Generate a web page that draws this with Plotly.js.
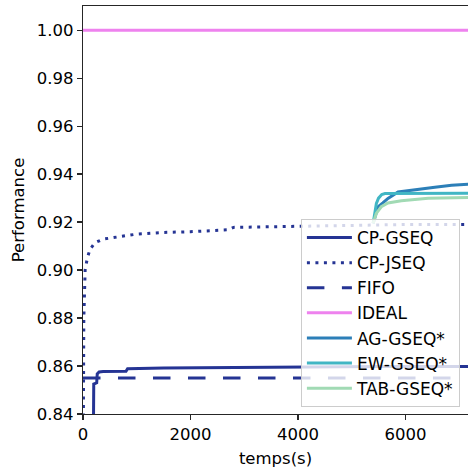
<!DOCTYPE html>
<html>
<head>
<meta charset="utf-8">
<script src="https://cdn.plot.ly/plotly-3.0.1.min.js"></script>
<style>
  html, body { margin: 0; padding: 0; background: #fff; }
  #chart { width: 468px; height: 471px; }
</style>
</head>
<body>
<div id="chart"></div>
<script>
// ---- Data ----
const cpGseqX = [190, 190, 200, 255, 265, 300, 375, 800, 830, 1500, 2500, 3500, 4500, 5500, 6500, 7200];
const cpGseqY = [0.820, 0.852, 0.8525, 0.853, 0.8567, 0.8575, 0.8577, 0.8578, 0.8589, 0.8592, 0.8594, 0.8596, 0.8597, 0.8598, 0.8598, 0.8598];

const cpJseqX = [0, 10, 15, 40, 80, 130, 220, 375, 530, 700, 1000, 1500, 2000, 2400, 2700, 2800, 3300, 4000, 5000, 6000, 7200];
const cpJseqY = [0.800, 0.860, 0.880, 0.900, 0.905, 0.9086, 0.9114, 0.9129, 0.9135, 0.9140, 0.9150, 0.9157, 0.9160, 0.9165, 0.9168, 0.9178, 0.9180, 0.9185, 0.9188, 0.9190, 0.9190];

const fifoX = [0, 7200];
const fifoY = [0.855, 0.855];

const idealX = [0, 7200];
const idealY = [1.0, 1.0];

const agX = [5400, 5440, 5490, 5580, 5676, 5863, 6174, 6548, 6860, 7200];
const agY = [0.9195, 0.923, 0.9264, 0.928, 0.9299, 0.9326, 0.9336, 0.9345, 0.9354, 0.9358];

const ewX = [5400, 5430, 5460, 5500, 5560, 5620, 6000, 7200];
const ewY = [0.9195, 0.924, 0.9278, 0.930, 0.9315, 0.9319, 0.9320, 0.9320];

const tabX = [5400, 5430, 5458, 5551, 5676, 5925, 6424, 7200];
const tabY = [0.9195, 0.922, 0.9236, 0.9264, 0.928, 0.9289, 0.9299, 0.9303];

const names = ["CP-GSEQ", "CP-JSEQ", "FIFO", "IDEAL", "AG-GSEQ*", "EW-GSEQ*", "TAB-GSEQ*"];
const xTicks = [0, 2000, 4000, 6000];
const yTicks = [0.84, 0.86, 0.88, 0.90, 0.92, 0.94, 0.96, 0.98, 1.00];

// ---- Styles ----
const dark = "#253494";
const W = 3;
const traces = [
  {x: cpGseqX, y: cpGseqY, name: names[0], line: {color: dark, width: W}},
  {x: cpJseqX, y: cpJseqY, name: names[1], line: {color: dark, width: W, dash: "3px,5.5px"}},
  {x: fifoX, y: fifoY, name: names[2], line: {color: dark, width: W, dash: "17.5px,17.5px"}},
  {x: idealX, y: idealY, name: names[3], line: {color: "#ee82ee", width: W}},
  {x: agX, y: agY, name: names[4], line: {color: "#2c7fb8", width: W}},
  {x: ewX, y: ewY, name: names[5], line: {color: "#41b6c4", width: W}},
  {x: tabX, y: tabY, name: names[6], line: {color: "#a1dab4", width: W}}
].map(t => Object.assign({type: "scatter", mode: "lines", hoverinfo: "skip"}, t));

const font = {family: "DejaVu Sans", size: 16.5, color: "#000"};
const axisColor = "#262626";

const layout = {
  width: 468, height: 471,
  margin: {l: 83, r: 0, t: 6, b: 57, pad: 0},
  paper_bgcolor: "#fff", plot_bgcolor: "#fff",
  font: font,
  showlegend: true,
  xaxis: {
    range: [0, 7165],
    tickvals: xTicks,
    ticktext: xTicks.map(String),
    showgrid: false, zeroline: false,
    showline: true, linecolor: axisColor, linewidth: 1.3, mirror: true,
    ticks: "outside", ticklen: 5, tickwidth: 1.3, tickcolor: axisColor,
    tickfont: font,
    title: {text: "temps(s)", font: font, standoff: 9}
  },
  yaxis: {
    range: [0.84, 1.0101],
    tickvals: yTicks,
    ticktext: yTicks.map(v => v.toFixed(2)),
    showgrid: false, zeroline: false,
    showline: true, linecolor: axisColor, linewidth: 1.3, mirror: false,
    ticks: "outside", ticklen: 5, tickwidth: 1.3, tickcolor: axisColor,
    tickfont: font,
    title: {text: "Performance", font: font, standoff: 8}
  },
  legend: {
    x: 0.566, y: 0.478, xanchor: "left", yanchor: "top",
    bgcolor: "rgba(255,255,255,0.8)",
    bordercolor: "#cccccc", borderwidth: 1,
    font: {family: "DejaVu Sans", size: 17, color: "#000"},
    itemwidth: 45
  }
};

Plotly.newPlot("chart", traces, layout, {staticPlot: true, displayModeBar: false});
</script>
</body>
</html>
